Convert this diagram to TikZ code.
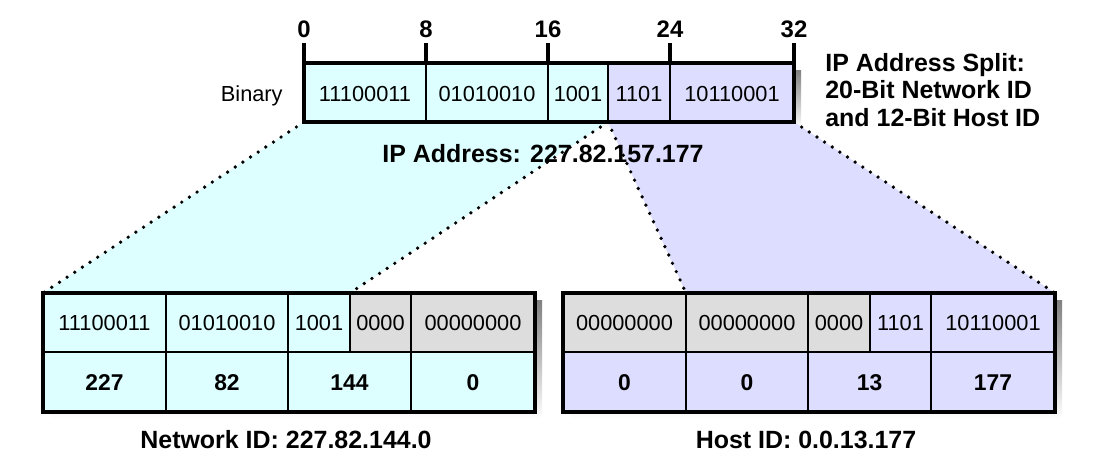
\documentclass[tikz,border=0pt]{standalone}
\usepackage{fontspec}
\setmainfont{Liberation Sans}

\definecolor{netcyan}{RGB}{221,255,255}
\definecolor{hostblue}{RGB}{221,221,255}
\definecolor{zerogray}{RGB}{221,221,221}
\definecolor{shade}{RGB}{216,213,172}

\begin{document}
\begin{tikzpicture}[
    x = 0.02cm,
    y = -0.02cm,
    frame/.style = {line width = 2.3pt},
    divider/.style = {line width = 1.1pt},
    zoomline/.style = {
      line width = 2.1pt,
      dash pattern = on 0pt off 5.2pt,
      line cap = round
    },
    bits/.style = {font = \fontsize{12.4}{14}\selectfont, inner sep = 0pt, anchor = base},
    octet/.style = {font = \fontsize{13}{14}\selectfont\bfseries, inner sep = 0pt, anchor = base},
    tick/.style = {font = \fontsize{13.6}{14}\selectfont\bfseries, inner sep = 0pt, anchor = base},
    caption/.style = {font = \fontsize{14.2}{15.6}\selectfont\bfseries, inner sep = 0pt, anchor = base}
  ]
  \useasboundingbox (0,0) rectangle (1099,474);

  \coordinate (ip sw) at (304,122);
  \coordinate (ip split) at (608,122);
  \coordinate (ip se) at (794,122);
  \coordinate (net nw) at (43,293);
  \coordinate (net cut) at (350,293);
  \coordinate (host cut) at (686,293);
  \coordinate (host ne) at (1055,293);

  % shadows
  \fill[shade] (311,70) rectangle (801,129);
  \fill[shade] (50,300) rectangle (542,419);
  \fill[shade] (570,300) rectangle (1062,419);

  % projection onto the two halves
  \fill[netcyan] (ip sw) -- (ip split) -- (net cut) -- (net nw) -- cycle;
  \fill[hostblue] (ip split) -- (ip se) -- (host ne) -- (host cut) -- cycle;
  \draw[zoomline] (ip sw) -- (net nw);
  \draw[zoomline] (ip split) -- (net cut);
  \draw[zoomline] (ip split) -- (host cut);
  \draw[zoomline] (ip se) -- (host ne);

  % address register
  \fill[netcyan] (304,63) rectangle (608,122);
  \fill[hostblue] (608,63) rectangle (794,122);
  \draw[divider] (426,63) -- (426,122);
  \draw[divider] (548,63) -- (548,122);
  \draw[divider] (608,63) -- (608,122);
  \draw[divider] (670,63) -- (670,122);
  \draw[frame] (304,63) rectangle (794,122);
  \foreach \x/\b in {304/0, 426/8, 548/16, 670/24, 794/32} {
    \draw[frame] (\x,43) -- (\x,63);
    \node[tick] (bit\b) at (\x,37) {\b};
  }

  \node[bits, anchor = base east] (binary) at (283,101) {Binary};
  \node[bits] (ipA) at (365,101) {11100011};
  \node[bits] (ipB) at (487,101) {01010010};
  \node[bits] (ipC) at (578,101) {1001};
  \node[bits] (ipD) at (639,101) {1101};
  \node[bits] (ipE) at (732,101) {10110001};
  \node[caption] (iplabel) at (543,162) {IP Address: 227.82.157.177};
  \node[caption, anchor = base west] (split1) at (825,71) {IP Address Split:};
  \node[caption, anchor = base west] (split2) at (825,98) {20-Bit Network ID};
  \node[caption, anchor = base west] (split3) at (825,126) {and 12-Bit Host ID};

  % network part
  \fill[netcyan] (43,293) rectangle (535,412);
  \fill[zerogray] (350,293) rectangle (535,352);
  \draw[divider] (43,352) -- (535,352);
  \draw[divider] (166,293) -- (166,412);
  \draw[divider] (288,293) -- (288,412);
  \draw[divider] (350,293) -- (350,352);
  \draw[divider] (411,293) -- (411,412);
  \draw[frame] (43,293) rectangle (535,412);

  \node[bits] (netA) at (104.5,330) {11100011};
  \node[bits] (netB) at (227,330) {01010010};
  \node[bits] (netC) at (319,330) {1001};
  \node[bits] (netD) at (380.5,330) {0000};
  \node[bits] (netE) at (473,330) {00000000};
  \node[octet] (net1) at (104.5,390) {227};
  \node[octet] (net2) at (227,390) {82};
  \node[octet] (net3) at (349.5,390) {144};
  \node[octet] (net4) at (473,390) {0};
  \node[caption] (netlabel) at (286,448) {Network ID: 227.82.144.0};

  % host part
  \fill[hostblue] (563,293) rectangle (1055,412);
  \fill[zerogray] (563,293) rectangle (870,352);
  \draw[divider] (563,352) -- (1055,352);
  \draw[divider] (686,293) -- (686,412);
  \draw[divider] (808,293) -- (808,412);
  \draw[divider] (870,293) -- (870,352);
  \draw[divider] (931,293) -- (931,412);
  \draw[frame] (563,293) rectangle (1055,412);

  \node[bits] (hostA) at (624.5,330) {00000000};
  \node[bits] (hostB) at (747,330) {00000000};
  \node[bits] (hostC) at (839,330) {0000};
  \node[bits] (hostD) at (900.5,330) {1101};
  \node[bits] (hostE) at (993,330) {10110001};
  \node[octet] (host1) at (624.5,390) {0};
  \node[octet] (host2) at (747,390) {0};
  \node[octet] (host3) at (869.5,390) {13};
  \node[octet] (host4) at (993,390) {177};
  \node[caption] (hostlabel) at (806,448) {Host ID: 0.0.13.177};

\end{tikzpicture}
\end{document}
